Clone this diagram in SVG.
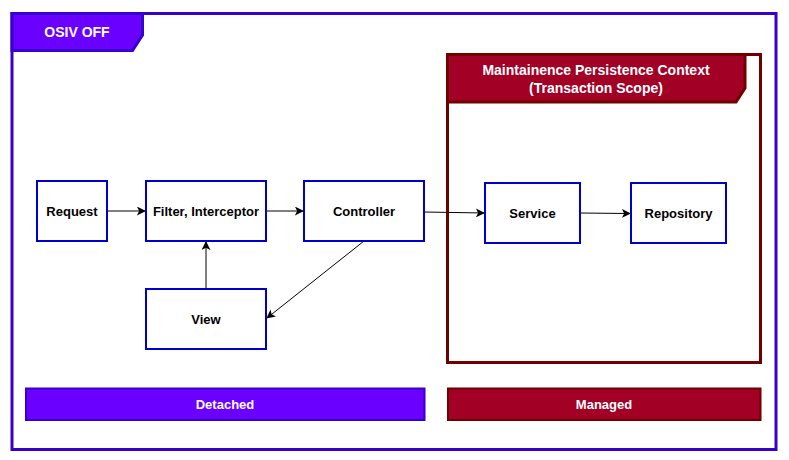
<svg xmlns="http://www.w3.org/2000/svg" width="789" height="460" viewBox="0 0 789 460">
<style>
.node rect{fill:#fff;stroke:#0000CC;stroke-width:2}
.nt{font-family:"Liberation Sans",Arial,sans-serif;font-size:13px;font-weight:bold;fill:#000;text-anchor:middle}
.wt{font-family:"Liberation Sans",Arial,sans-serif;font-weight:bold;fill:#fff;text-anchor:middle}
.edge{fill:none;stroke:#000;stroke-width:1}
</style>
<defs>
<marker id="arr" viewBox="0 0 10 10" refX="9" refY="5" markerWidth="9" markerHeight="9" markerUnits="userSpaceOnUse" orient="auto">
<path d="M0,0 L10,5 L0,10 L2.5,5 Z" fill="#000"/>
</marker>
</defs>
<rect width="789" height="460" fill="#fff"/>
<g id="frame">
<rect x="12" y="13.5" width="764" height="436" fill="none" stroke="#3700CC" stroke-width="3"/>
<path d="M12,13.5 H142.5 V35 L132.5,50.5 H12 Z" fill="#6A00FF" stroke="#3700CC" stroke-width="3"/>
<text class="wt" x="77" y="37" font-size="14">OSIV OFF</text>
</g>
<g id="context">
<rect x="447.5" y="54.5" width="313" height="308" fill="none" stroke="#6F0000" stroke-width="3"/>
<path d="M447.5,54.5 H745 V88 L736,102 H447.5 Z" fill="#A20025" stroke="#6F0000" stroke-width="3"/>
<text class="wt" x="596" y="75" font-size="14">Maintainence Persistence Context</text>
<text class="wt" x="596" y="93" font-size="14">(Transaction Scope)</text>
</g>
<g id="connectors">
<path class="edge" d="M107,211 H145" marker-end="url(#arr)"/>
<path class="edge" d="M266,211 H303" marker-end="url(#arr)"/>
<path class="edge" d="M424,212 L484,213" marker-end="url(#arr)"/>
<path class="edge" d="M580,213 L630,213.5" marker-end="url(#arr)"/>
<path class="edge" d="M206,289 V242" marker-end="url(#arr)"/>
<path class="edge" d="M364,241 L267,318" marker-end="url(#arr)"/>
</g>
<g id="request" class="node"><rect x="37" y="181" width="70" height="60"/><text class="nt" x="72" y="216">Request</text></g>
<g id="filter" class="node"><rect x="146" y="181" width="120" height="60"/><text class="nt" x="206" y="216">Filter, Interceptor</text></g>
<g id="controller" class="node"><rect x="304" y="181" width="120" height="60"/><text class="nt" x="364" y="216">Controller</text></g>
<g id="view" class="node"><rect x="146" y="289" width="120" height="60"/><text class="nt" x="206" y="324">View</text></g>
<g id="service" class="node"><rect x="485" y="183" width="95" height="60"/><text class="nt" x="532.5" y="218">Service</text></g>
<g id="repository" class="node"><rect x="631" y="183" width="95" height="60"/><text class="nt" x="678.5" y="218">Repository</text></g>
<g id="detached">
<rect x="26" y="388.5" width="398.5" height="31.5" fill="#6A00FF" stroke="#3700CC" stroke-width="2"/>
<text class="wt" x="225" y="409" font-size="13">Detached</text>
</g>
<g id="managed">
<rect x="448" y="388.5" width="312.5" height="31.5" fill="#A20025" stroke="#6F0000" stroke-width="2"/>
<text class="wt" x="604" y="409" font-size="13">Managed</text>
</g>
</svg>
